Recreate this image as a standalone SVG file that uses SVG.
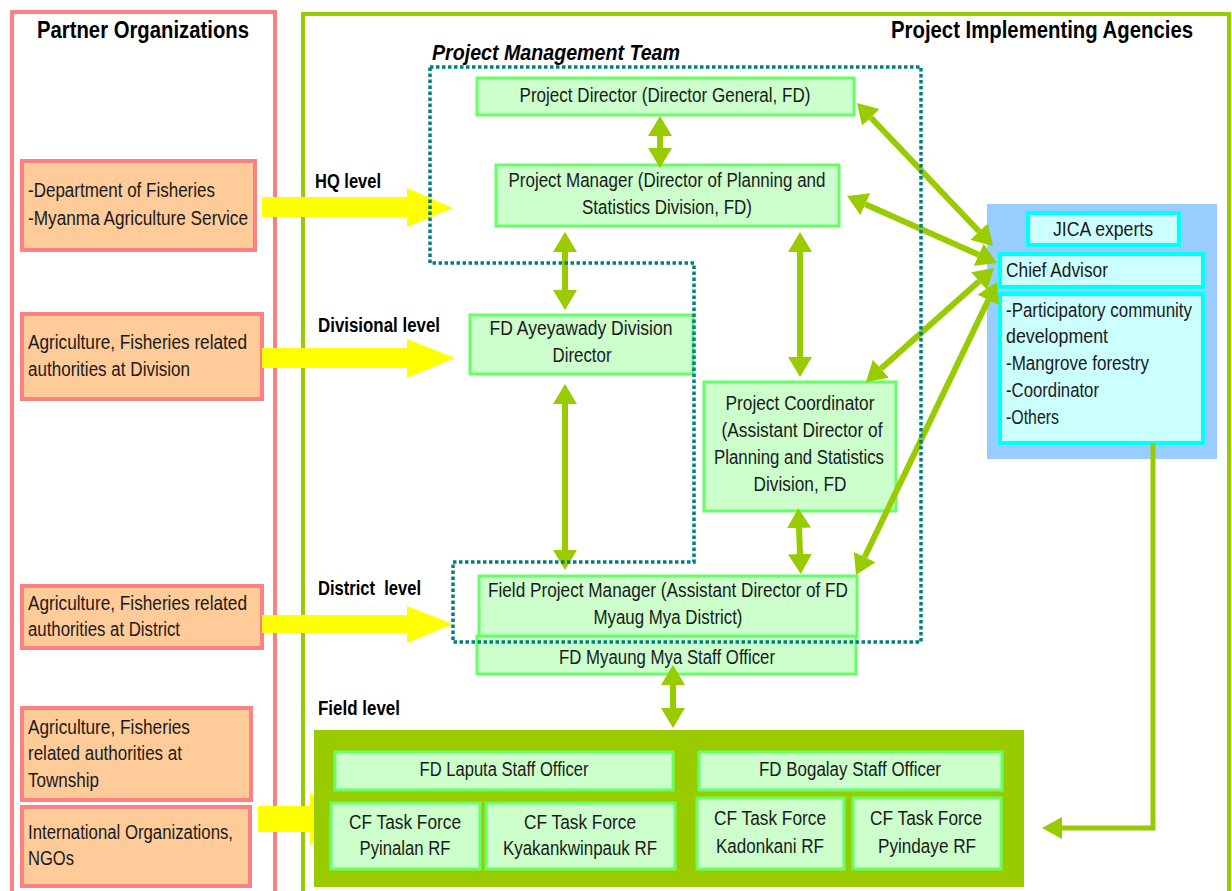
<svg xmlns="http://www.w3.org/2000/svg" width="1232" height="891" viewBox="0 0 1232 891">
  <defs>
    <style>
      text { font-family: "Liberation Sans Narrow", "Liberation Sans", Arial, sans-serif; fill: #1a1a1a; }
      .t { font-size: 20px; }
      .c { text-anchor: middle; }
      .hdr { font-size: 23px; font-weight: bold; fill: #000; }
      .lvl { font-size: 20px; font-weight: bold; fill: #000; }
      .team { font-size: 22px; font-weight: bold; font-style: italic; fill: #000; }
      .node { fill: #CCFFCC; stroke: #66FF66; stroke-width: 3; }
      .org { fill: #FFCC99; stroke: #FF8080; stroke-width: 4; }
      .jica { fill: #CCFFFF; stroke: #00FFFF; stroke-width: 4; }
      .link { fill: none; stroke: #99CC00; stroke-width: 6; marker-start: url(#head); marker-end: url(#head); }
      .flow { fill: #FFFF00; }
    </style>
    <marker id="head" viewBox="0 0 20 24" refX="0" refY="12" markerWidth="20" markerHeight="24" markerUnits="userSpaceOnUse" orient="auto-start-reverse">
      <path d="M0,0 L20,12 L0,24 Z" fill="#99CC00"/>
    </marker>
    <marker id="headOne" viewBox="0 0 20 22" refX="0" refY="11" markerWidth="20" markerHeight="22" markerUnits="userSpaceOnUse" orient="auto">
      <path d="M0,0 L20,11 L0,22 Z" fill="#99CC00"/>
    </marker>
  </defs>

  <rect width="1232" height="891" fill="#FFFFFF"/>

  <!-- Outer frames -->
  <g id="partner-frame">
    <path d="M12,900 V12 H275 V900" fill="none" stroke="#FF8080" stroke-width="4"/>
    <text class="hdr c" x="143" y="38" textLength="212" lengthAdjust="spacingAndGlyphs">Partner Organizations</text>
  </g>
  <g id="agency-frame">
    <path d="M303,900 V14 H1229 V900" fill="none" stroke="#99CC00" stroke-width="4"/>
    <text class="hdr c" x="1042" y="38" textLength="302" lengthAdjust="spacingAndGlyphs">Project Implementing Agencies</text>
  </g>

  <!-- Partner organizations -->
  <g id="org-hq">
    <rect class="org" x="22" y="161" width="233" height="89"/>
    <text class="t" x="28" y="197" textLength="187" lengthAdjust="spacingAndGlyphs">-Department of Fisheries</text>
    <text class="t" x="28" y="225" textLength="220" lengthAdjust="spacingAndGlyphs">-Myanma Agriculture Service</text>
  </g>
  <g id="org-division">
    <rect class="org" x="22" y="314" width="240" height="85"/>
    <text class="t" x="28" y="349" textLength="219" lengthAdjust="spacingAndGlyphs">Agriculture, Fisheries related</text>
    <text class="t" x="28" y="376" textLength="162" lengthAdjust="spacingAndGlyphs">authorities at Division</text>
  </g>
  <g id="org-district">
    <rect class="org" x="22" y="586" width="240" height="62"/>
    <text class="t" x="28" y="610" textLength="219" lengthAdjust="spacingAndGlyphs">Agriculture, Fisheries related</text>
    <text class="t" x="28" y="636" textLength="152" lengthAdjust="spacingAndGlyphs">authorities at District</text>
  </g>
  <g id="org-township">
    <rect class="org" x="22" y="708" width="229" height="92"/>
    <text class="t" x="28" y="734" textLength="162" lengthAdjust="spacingAndGlyphs">Agriculture, Fisheries</text>
    <text class="t" x="28" y="760" textLength="154" lengthAdjust="spacingAndGlyphs">related authorities at</text>
    <text class="t" x="28" y="787" textLength="71" lengthAdjust="spacingAndGlyphs">Township</text>
  </g>
  <g id="org-international">
    <rect class="org" x="22" y="807" width="228" height="79"/>
    <text class="t" x="28" y="839" textLength="205" lengthAdjust="spacingAndGlyphs">International Organizations,</text>
    <text class="t" x="28" y="865" textLength="46" lengthAdjust="spacingAndGlyphs">NGOs</text>
  </g>

  <!-- Level labels -->
  <g id="levels">
    <text class="lvl" x="315" y="188" textLength="66" lengthAdjust="spacingAndGlyphs">HQ level</text>
    <text class="lvl" x="318" y="332" textLength="122" lengthAdjust="spacingAndGlyphs">Divisional level</text>
    <text class="lvl" x="318" y="595" xml:space="preserve" textLength="103" lengthAdjust="spacingAndGlyphs">District  level</text>
    <text class="lvl" x="318" y="715" textLength="82" lengthAdjust="spacingAndGlyphs">Field level</text>
  </g>

  <!-- Yellow flow arrows -->
  <g id="flows">
    <polygon class="flow" points="262,197 407,197 407,188 453,208 407,227 407,217 262,217"/>
    <polygon class="flow" points="262,348 407,348 407,339 455,358 407,378 407,368 262,368"/>
    <polygon class="flow" points="262,615 407,615 407,606 453,624 407,643 407,633 262,633"/>
    <polygon class="flow" points="258,806 310,806 310,792 327,819 310,846 310,832 258,832"/>
  </g>

  <!-- HQ / division / district nodes -->
  <g id="project-director">
    <rect class="node" x="477" y="78" width="377" height="37"/>
    <text class="t c" x="665" y="102" textLength="291" lengthAdjust="spacingAndGlyphs">Project Director (Director General, FD)</text>
  </g>
  <g id="project-manager">
    <rect class="node" x="496" y="165" width="343" height="61"/>
    <text class="t c" x="667" y="187" textLength="317" lengthAdjust="spacingAndGlyphs">Project Manager (Director of Planning and</text>
    <text class="t c" x="667" y="214" textLength="170" lengthAdjust="spacingAndGlyphs">Statistics Division, FD)</text>
  </g>
  <g id="division-director">
    <rect class="node" x="470" y="315" width="223" height="59"/>
    <text class="t c" x="581" y="335" textLength="183" lengthAdjust="spacingAndGlyphs">FD Ayeyawady Division</text>
    <text class="t c" x="582" y="362" textLength="59" lengthAdjust="spacingAndGlyphs">Director</text>
  </g>
  <g id="project-coordinator">
    <rect class="node" x="704" y="382" width="192" height="129"/>
    <text class="t c" x="800" y="410" textLength="149" lengthAdjust="spacingAndGlyphs">Project Coordinator</text>
    <text class="t c" x="802" y="437" textLength="161" lengthAdjust="spacingAndGlyphs">(Assistant Director of</text>
    <text class="t c" x="799" y="464" textLength="170" lengthAdjust="spacingAndGlyphs">Planning and Statistics</text>
    <text class="t c" x="800" y="491" textLength="93" lengthAdjust="spacingAndGlyphs">Division, FD</text>
  </g>
  <g id="myaung-mya-staff">
    <rect class="node" x="477" y="636" width="379" height="38"/>
    <text class="t c" x="667" y="664" textLength="216" lengthAdjust="spacingAndGlyphs">FD Myaung Mya Staff Officer</text>
  </g>
  <g id="field-project-manager">
    <rect class="node" x="479" y="576" width="378" height="60"/>
    <text class="t c" x="668" y="597" textLength="360" lengthAdjust="spacingAndGlyphs">Field Project Manager (Assistant Director of FD</text>
    <text class="t c" x="668" y="624" textLength="149" lengthAdjust="spacingAndGlyphs">Myaug Mya District)</text>
  </g>

  <!-- JICA experts -->
  <g id="jica-experts">
    <rect x="987" y="204" width="230" height="255" fill="#99CCFF"/>
    <rect class="jica" x="1028" y="213" width="151" height="32"/>
    <text class="t c" x="1103" y="236" textLength="100" lengthAdjust="spacingAndGlyphs">JICA experts</text>
  </g>
  <g id="chief-advisor">
    <rect class="jica" x="1000" y="254" width="203" height="33"/>
    <text class="t" x="1006" y="277" textLength="102" lengthAdjust="spacingAndGlyphs">Chief Advisor</text>
  </g>
  <g id="expert-fields">
    <rect class="jica" x="1000" y="294" width="203" height="149"/>
    <text class="t" x="1006" y="317" textLength="186" lengthAdjust="spacingAndGlyphs">-Participatory community</text>
    <text class="t" x="1006" y="343" textLength="102" lengthAdjust="spacingAndGlyphs">development</text>
    <text class="t" x="1006" y="370" textLength="143" lengthAdjust="spacingAndGlyphs">-Mangrove forestry</text>
    <text class="t" x="1006" y="397" textLength="93" lengthAdjust="spacingAndGlyphs">-Coordinator</text>
    <text class="t" x="1006" y="424" textLength="53" lengthAdjust="spacingAndGlyphs">-Others</text>
  </g>

  <!-- Field level -->
  <g id="field-level">
    <rect x="314" y="730" width="710" height="157" fill="#99CC00"/>
  </g>
  <g id="laputa-staff">
    <rect class="node" x="335" y="752" width="338" height="38"/>
    <text class="t c" x="504" y="776" textLength="169" lengthAdjust="spacingAndGlyphs">FD Laputa Staff Officer</text>
  </g>
  <g id="bogalay-staff">
    <rect class="node" x="699" y="752" width="303" height="38"/>
    <text class="t c" x="850" y="776" textLength="182" lengthAdjust="spacingAndGlyphs">FD Bogalay Staff Officer</text>
  </g>
  <g id="tf-pyinalan">
    <rect class="node" x="331" y="803" width="149" height="66"/>
    <text class="t c" x="405" y="829" textLength="112" lengthAdjust="spacingAndGlyphs">CF Task Force</text>
    <text class="t c" x="405" y="855" textLength="91" lengthAdjust="spacingAndGlyphs">Pyinalan RF</text>
  </g>
  <g id="tf-kyakankwinpauk">
    <rect class="node" x="486" y="803" width="189" height="66"/>
    <text class="t c" x="580" y="829" textLength="112" lengthAdjust="spacingAndGlyphs">CF Task Force</text>
    <text class="t c" x="580" y="855" textLength="154" lengthAdjust="spacingAndGlyphs">Kyakankwinpauk RF</text>
  </g>
  <g id="tf-kadonkani">
    <rect class="node" x="697" y="798" width="147" height="71"/>
    <text class="t c" x="770" y="825" textLength="112" lengthAdjust="spacingAndGlyphs">CF Task Force</text>
    <text class="t c" x="770" y="853" textLength="108" lengthAdjust="spacingAndGlyphs">Kadonkani RF</text>
  </g>
  <g id="tf-pyindaye">
    <rect class="node" x="853" y="798" width="148" height="71"/>
    <text class="t c" x="926" y="825" textLength="112" lengthAdjust="spacingAndGlyphs">CF Task Force</text>
    <text class="t c" x="927" y="853" textLength="98" lengthAdjust="spacingAndGlyphs">Pyindaye RF</text>
  </g>

  <!-- Connectors -->
  <g id="connectors">
    <line class="link" x1="660" y1="136" x2="660" y2="148" stroke-width="8"/>
    <line class="link" x1="565" y1="252" x2="565" y2="290"/>
    <line class="link" x1="800" y1="252" x2="800" y2="357"/>
    <line class="link" x1="565" y1="404" x2="565" y2="550"/>
    <line class="link" x1="799" y1="528" x2="800" y2="554"/>
    <line class="link" x1="673" y1="685" x2="673" y2="708"/>
    <line class="link" x1="870.8" y1="117.5" x2="979.2" y2="231.5"/>
    <line class="link" x1="865.3" y1="204.2" x2="978.7" y2="254.8"/>
    <line class="link" x1="979.1" y1="281.3" x2="880.9" y2="368.7"/>
    <line class="link" x1="988.3" y1="300" x2="864.7" y2="557"/>
    <path d="M1153,443 V828 H1062" fill="none" stroke="#99CC00" stroke-width="5" marker-end="url(#headOne)"/>
  </g>

  <!-- Project management team boundary -->
  <g id="management-team">
    <path d="M430,67 H921 V642 H453 V562 H694 V263 H430 Z" fill="none" stroke="#008080" stroke-width="3.5" stroke-dasharray="3.5 2.5"/>
    <text class="team" x="432" y="60" textLength="248" lengthAdjust="spacingAndGlyphs">Project Management Team</text>
  </g>
</svg>
